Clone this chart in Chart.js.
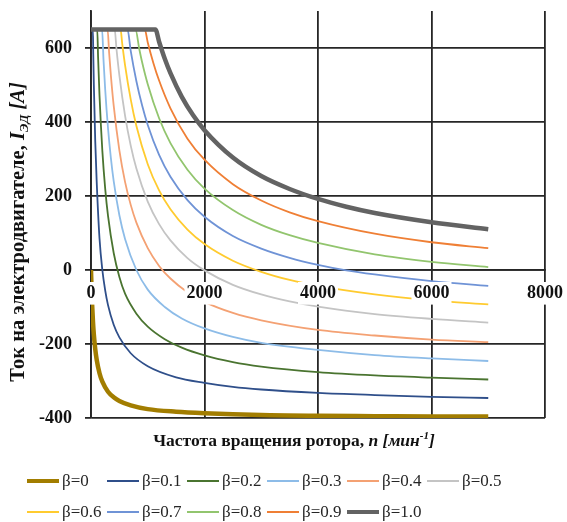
<!DOCTYPE html>
<html>
<head>
<meta charset="utf-8">
<script src="https://cdn.jsdelivr.net/npm/chart.js@4/dist/chart.umd.min.js"></script>
<style>
  html, body { margin: 0; padding: 0; background: #fff; }
  #wrap { position: relative; width: 567px; height: 522px; }
  #c { position: absolute; left: 0; top: 0; }
  .sw { position: absolute; width: 32px; }
  .lb { position: absolute; font: 17px/20px "Liberation Serif", "Times New Roman", serif; color: #262626; white-space: nowrap; }
</style>
</head>
<body>
<div id="wrap">
  <canvas id="c" width="567" height="522"></canvas>
  <div id="legend"></div>
</div>
<script>
// Motor current vs rotor speed for load factors β = 0 … 1.0
const betaLabels = ['β=0', 'β=0.1', 'β=0.2', 'β=0.3', 'β=0.4', 'β=0.5',
                    'β=0.6', 'β=0.7', 'β=0.8', 'β=0.9', 'β=1.0'];

// rotor speed, rpm (per curve) and motor current, A
const n_b00 = [0, 10, 20, 35, 50, 75, 100, 150, 200, 300, 400, 500, 700, 1000, 1500, 2000, 3000, 4000, 5000, 6000, 7000];
const i_b00 = [0, -53, -94, -140, -174, -214, -242, -279, -302, -329, -344, -354, -366, -376, -383, -387, -392, -394, -395, -396, -396];

const n_b01 = [0, 33, 40, 50, 75, 100, 150, 200, 250, 300, 400, 500, 700, 1000, 1500, 2000, 2500, 3000, 4000, 5000, 6000, 7000];
const i_b01 = [650, 650, 583, 501, 347, 240, 85, 0, -55, -95, -148, -182, -225, -260, -290, -305, -316, -323, -332, -338, -343, -346];

const n_b02 = [0, 110, 125, 150, 200, 250, 300, 400, 500, 600, 800, 1000, 1300, 1600, 2000, 2500, 3000, 4000, 5000, 6000, 7000];
const i_b02 = [650, 650, 575, 471, 322, 220, 146, 46, -19, -64, -118, -153, -187, -210, -231, -249, -261, -276, -285, -291, -296];

const n_b03 = [0, 195, 220, 250, 300, 350, 400, 500, 600, 800, 1000, 1300, 1600, 2000, 2500, 3000, 4000, 5000, 6000, 7000];
const i_b03 = [650, 650, 569, 488, 383, 303, 240, 148, 84, 0, -53, -100, -131, -158, -181, -197, -216, -230, -239, -246];

const n_b04 = [0, 292, 320, 350, 400, 500, 600, 700, 800, 1000, 1200, 1400, 1700, 2000, 2500, 3000, 4000, 5000, 6000, 7000];
const i_b04 = [650, 650, 586, 526, 444, 323, 238, 176, 128, 59, 11, -23, -60, -86, -116, -136, -162, -177, -188, -195];

const n_b05 = [0, 417, 450, 500, 600, 700, 800, 1000, 1200, 1400, 1700, 2000, 2500, 3000, 3500, 4000, 5000, 6000, 7000];
const i_b05 = [650, 650, 596, 526, 417, 336, 274, 185, 124, 80, 32, -1, -40, -66, -85, -99, -119, -132, -142];

const n_b06 = [0, 521, 550, 600, 700, 800, 1000, 1200, 1400, 1700, 2000, 2500, 3000, 3500, 4000, 5000, 6000, 7000];
const i_b06 = [650, 650, 612, 554, 461, 389, 286, 215, 164, 109, 70, 25, -5, -27, -43, -66, -82, -93];

const n_b07 = [0, 643, 700, 800, 900, 1000, 1200, 1400, 1700, 2000, 2500, 3000, 3500, 4000, 4500, 5000, 6000, 7000];
const i_b07 = [650, 650, 592, 510, 445, 392, 311, 252, 189, 144, 92, 58, 33, 14, -1, -12, -30, -43];

const n_b08 = [0, 784, 850, 900, 1000, 1200, 1400, 1700, 2000, 2500, 3000, 3500, 4000, 5000, 6000, 7000];
const i_b08 = [650, 650, 598, 562, 502, 410, 343, 271, 220, 162, 122, 94, 73, 42, 22, 8];

const n_b09 = [0, 947, 1000, 1100, 1200, 1400, 1700, 2000, 2500, 3000, 3500, 4000, 5000, 6000, 7000];
const i_b09 = [650, 650, 615, 559, 512, 437, 355, 298, 232, 188, 156, 132, 98, 75, 59];

const n_b10 = [0, 1135, 1200, 1300, 1400, 1600, 1800, 2000, 2500, 3000, 3500, 4000, 4500, 5000, 6000, 7000];
const i_b10 = [650, 650, 617, 571, 532, 468, 418, 378, 304, 254, 219, 192, 171, 154, 129, 110];

// axis tick values
const xTicks = [0, 2000, 4000, 6000, 8000];
const yTicks = [-400, -200, 0, 200, 400, 600];

const speeds   = [n_b00, n_b01, n_b02, n_b03, n_b04, n_b05, n_b06, n_b07, n_b08, n_b09, n_b10];
const currents = [i_b00, i_b01, i_b02, i_b03, i_b04, i_b05, i_b06, i_b07, i_b08, i_b09, i_b10];

const lineColors = ['#A27D00', '#2F4F8A', '#4A7430', '#8DBCE8', '#F4A173', '#C4C4C4',
                    '#FFCB2F', '#6F93D6', '#92C56E', '#EF7F35', '#636363'];
const lineWidths = [4.5, 1.8, 1.8, 1.8, 1.8, 1.8, 1.8, 1.8, 1.8, 1.8, 4.5];

const datasets = betaLabels.map((label, k) => ({
  label,
  data: speeds[k].map((n, j) => ({ x: n, y: currents[k][j] })),
  borderColor: lineColors[k],
  backgroundColor: lineColors[k],
  borderWidth: lineWidths[k],
  pointRadius: 0,
  pointHoverRadius: 0,
  fill: false,
  cubicInterpolationMode: 'monotone',
  borderJoinStyle: 'round',
  borderCapStyle: 'butt',
  order: betaLabels.length - k
}));

const SERIF = '"Liberation Serif", "Times New Roman", serif';
const INK = '#111';
const GRID = '#262626';

// rich-text axis titles (subscript / superscript)
const yTitleParts = [
  { text: 'Ток на электродвигателе, ', font: 'bold 20.5px ' + SERIF },
  { text: 'I', font: 'bold italic 20.5px ' + SERIF },
  { text: 'ЭД', font: 'bold italic 13px ' + SERIF, dy: 4 },
  { text: ' [A]', font: 'bold italic 20.5px ' + SERIF }
];
const xTitleParts = [
  { text: 'Частота вращения ротора, ', font: 'bold 17.5px ' + SERIF },
  { text: 'n', font: 'bold italic 17.5px ' + SERIF },
  { text: ' [мин', font: 'bold italic 17.5px ' + SERIF },
  { text: '-1', font: 'bold italic 11px ' + SERIF, dy: -7 },
  { text: ']', font: 'bold italic 17.5px ' + SERIF }
];

function drawRich(ctx, parts, cx, cy, rot) {
  ctx.save();
  ctx.translate(cx, cy);
  ctx.rotate(rot);
  ctx.textBaseline = 'alphabetic';
  ctx.textAlign = 'left';
  ctx.fillStyle = INK;
  let total = 0;
  parts.forEach(p => { ctx.font = p.font; p.w = ctx.measureText(p.text).width; total += p.w; });
  let x = -total / 2;
  parts.forEach(p => { ctx.font = p.font; ctx.fillText(p.text, x, 6 + (p.dy || 0)); x += p.w; });
  ctx.restore();
}

const axisTitles = {
  id: 'axisTitles',
  afterDraw(chart) {
    const ctx = chart.ctx;
    drawRich(ctx, yTitleParts, 18, 232, -Math.PI / 2);
    drawRich(ctx, xTitleParts, 294, 440, 0);
  }
};

// keep the plot box fixed: no extra room reserved for edge labels
function noEdgePadding(s) {
  s.paddingTop = 0; s.paddingBottom = 0; s.paddingLeft = 0; s.paddingRight = 0;
}

const chart = new Chart(document.getElementById('c'), {
  type: 'line',
  data: { datasets },
  plugins: [axisTitles],
  options: {
    responsive: false,
    animation: false,
    devicePixelRatio: 1,
    events: [],
    layout: { padding: { left: 0, right: 22, top: 11, bottom: 104 } },
    plugins: { legend: { display: false }, tooltip: { enabled: false } },
    scales: {
      x: {
        type: 'linear',
        min: 0, max: 8000,
        position: { y: 0 },
        afterBuildTicks: s => { s.ticks = xTicks.map(v => ({ value: v })); },
        afterFit: s => { noEdgePadding(s); },
        grid: { color: GRID, lineWidth: 1.8, drawTicks: false },
        border: { color: GRID, width: 1.8 },
        ticks: {
          z: 1,
          autoSkip: false, maxRotation: 0,
          padding: 13,
          color: INK,
          font: { family: SERIF, size: 18, weight: 'bold' },
          callback: v => String(v),
          showLabelBackdrop: true,
          backdropColor: '#ffffff',
          backdropPadding: { top: 1, bottom: 0, left: 2, right: 2 }
        }
      },
      y: {
        type: 'linear',
        min: -400, max: 700,
        afterBuildTicks: s => { s.ticks = yTicks.map(v => ({ value: v })); },
        afterFit: s => { s.width = 91; noEdgePadding(s); },
        grid: { color: GRID, lineWidth: 1.8, tickLength: 6 },
        border: { color: GRID, width: 1.8 },
        ticks: {
          padding: 13,
          color: INK,
          callback: v => String(v),
          font: { family: SERIF, size: 18, weight: 'bold' }
        }
      }
    }
  }
});

// legend: two rows of fixed-width columns under the chart
const legend = document.getElementById('legend');
betaLabels.forEach((label, k) => {
  const row = k < 6 ? 0 : 1;
  const col = k < 6 ? k : k - 6;
  const left = 27 + 80 * col;
  const cy = row === 0 ? 481 : 512;
  const sw = document.createElement('div');
  sw.className = 'sw';
  sw.style.left = left + 'px';
  sw.style.top = (cy - lineWidths[k] / 2) + 'px';
  sw.style.height = lineWidths[k] + 'px';
  sw.style.background = lineColors[k];
  const lb = document.createElement('div');
  lb.className = 'lb';
  lb.style.left = (left + 35) + 'px';
  lb.style.top = (cy - 10) + 'px';
  lb.textContent = label;
  legend.appendChild(sw);
  legend.appendChild(lb);
});
</script>
</body>
</html>
